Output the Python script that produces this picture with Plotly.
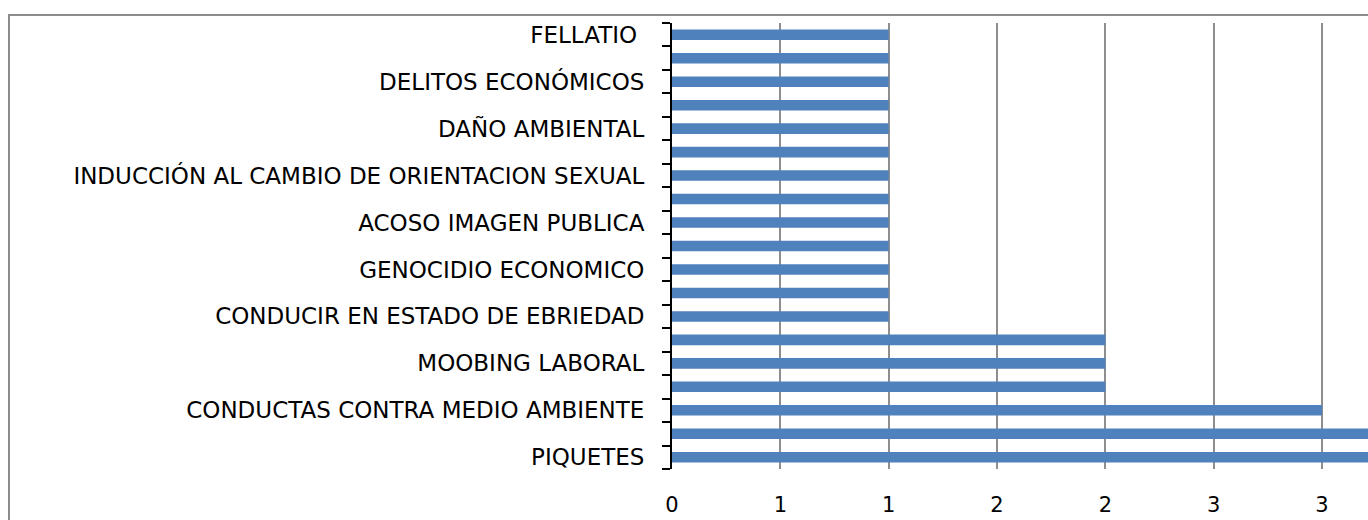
import plotly.graph_objects as go

# Categories listed bottom to top; every other category label is not shown in the source ("")
categories = [
    "PIQUETES", "",
    "CONDUCTAS CONTRA MEDIO AMBIENTE", "",
    "MOOBING LABORAL", "",
    "CONDUCIR EN ESTADO DE EBRIEDAD", "",
    "GENOCIDIO ECONOMICO", "",
    "ACOSO IMAGEN PUBLICA", "",
    "INDUCCIÓN AL CAMBIO DE ORIENTACION SEXUAL", "",
    "DAÑO AMBIENTAL", "",
    "DELITOS ECONÓMICOS", "",
    "FELLATIO\u00a0",
]
values = [4, 4, 3, 2, 2, 2, 1, 1, 1, 1, 1, 1, 1, 1, 1, 1, 1, 1, 1]

x_tickvals = [0, 0.5, 1, 1.5, 2, 2.5, 3]
x_ticktext = ["0", "1", "1", "2", "2", "3", "3"]

positions = list(range(len(categories)))
boundaries = [p - 0.5 for p in positions] + [positions[-1] + 0.5]

FONT = "DejaVu Sans"
X_MAX = 3.212
PLOT_W = 696
PLOT_H = 446

fig = go.Figure()
fig.add_trace(go.Bar(
    x=values, y=positions, orientation="h",
    width=0.45,
    marker=dict(color="#4F81BD", line=dict(width=0)),
    hoverinfo="x+y",
))

fig.update_layout(
    width=1368, height=520,
    margin=dict(l=672, r=0, t=23, b=51),
    paper_bgcolor="white", plot_bgcolor="white",
    showlegend=False,
    font=dict(family=FONT, color="#000000"),
    xaxis=dict(
        range=[0, X_MAX],
        tickmode="array", tickvals=x_tickvals, ticktext=x_ticktext,
        showgrid=True, gridcolor="#8e8e8e", gridwidth=1.5,
        zeroline=False, showline=False,
        ticks="outside", ticklen=17, tickcolor="rgba(0,0,0,0)",
        tickfont=dict(family=FONT, size=21, color="#000000"),
        fixedrange=True,
    ),
    xaxis2=dict(
        range=[0, X_MAX], overlaying="x", side="top", anchor="y",
        tickmode="array", tickvals=x_tickvals,
        showticklabels=False, showgrid=False, zeroline=False,
        showline=True, linecolor="#000000", linewidth=2,
        ticks="outside", ticklen=6, tickwidth=2, tickcolor="#000000",
    ),
    yaxis=dict(
        range=[-0.5, len(categories) - 0.5],
        tickmode="array", tickvals=positions, ticktext=categories,
        showgrid=False, zeroline=False,
        showline=True, linecolor="#000000", linewidth=2,
        ticks="outside", ticklen=21, tickcolor="rgba(0,0,0,0)",
        tickfont=dict(family=FONT, size=23, color="#000000"),
        minor=dict(tickmode="array", tickvals=boundaries, ticks="outside",
                   ticklen=8, tickwidth=2, tickcolor="#000000", showgrid=False),
    ),
    shapes=[dict(
        type="rect", xref="paper", yref="paper",
        x0=(9 - 672) / PLOT_W, x1=1.02, y0=-0.2, y1=1 + 8 / PLOT_H,
        line=dict(color="#8c8c8c", width=2), fillcolor="rgba(0,0,0,0)",
        layer="below",
    )],
)

fig.write_html(
    "out.html",
    config={"displayModeBar": False},
    post_script="document.body.style.margin='0';document.body.style.overflow='hidden';",
)
